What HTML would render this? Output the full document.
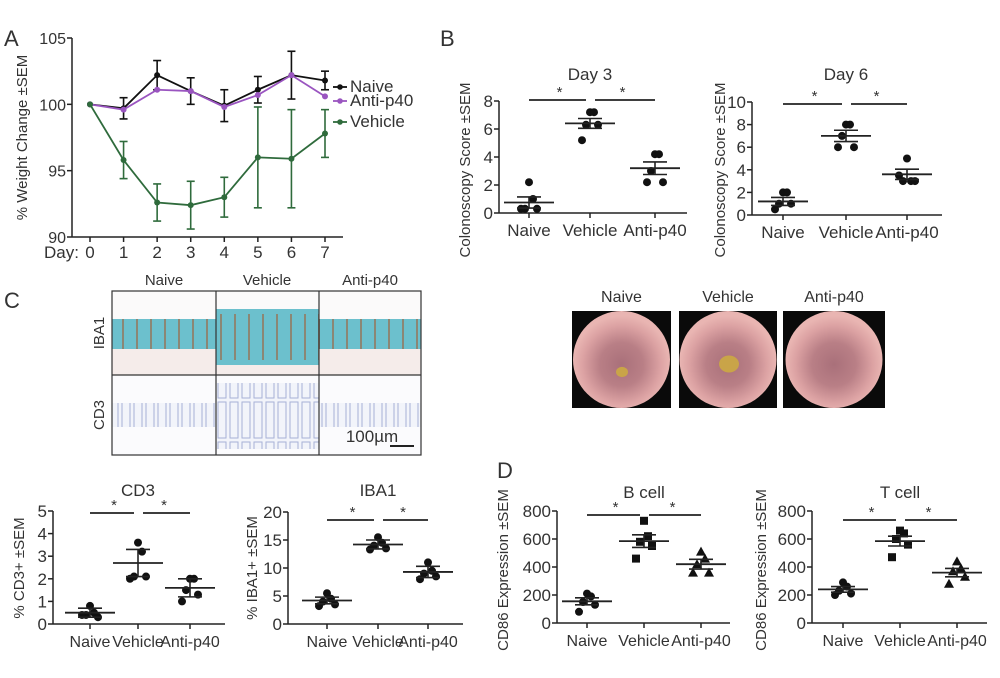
<!DOCTYPE html>
<html><head><meta charset="utf-8"><style>
html,body{margin:0;padding:0;background:#fff;}
svg{display:block;font-family:"Liberation Sans",Arial,sans-serif;}
</style></head><body>
<svg id="fig" width="1000" height="678" viewBox="0 0 1000 678">
<defs>
<radialGradient id="endo" cx="50%" cy="55%" r="50%">
<stop offset="0%" stop-color="#a9707a"/><stop offset="45%" stop-color="#b97f86"/><stop offset="80%" stop-color="#dca2a3"/><stop offset="100%" stop-color="#e9b5b2"/>
</radialGradient>
<pattern id="iba" width="14" height="60" patternUnits="userSpaceOnUse">
<rect width="14" height="60" fill="#6cc0cd"/><rect x="10" y="14" width="2" height="46" fill="#a0603a" opacity="0.6"/>
</pattern>
<pattern id="cd3" width="12" height="40" patternUnits="userSpaceOnUse">
<rect width="12" height="40" fill="#f2f4fa"/><rect x="2" y="2" width="8" height="36" fill="none" stroke="#a7b1d6" stroke-width="1"/>
</pattern>
</defs>
<g id="root"></g>
</svg>
<script>
// ---------- Panel A data ----------
const daysA = [0,1,2,3,4,5,6,7];
const naiveA = [100,99.7,102.2,101,99.9,101.1,102.2,101.8];
const naiveErrA = [0,0.8,1.1,1,1.2,1,1.8,0.7];
const antiA = [100,99.6,101.1,101,99.8,100.7,102.2,100.6];
const antiErrA = [0,0,0,0,0,0,0,0];
const vehA = [100,95.8,92.6,92.4,93,96,95.9,97.8];
const vehErrA = [0,1.4,1.4,1.8,1.5,3.8,3.7,1.8];
const yTicksA = [90,95,100,105];
// ---------- Scatter panels data ----------
const groups = ["Naive","Vehicle","Anti-p40"];
const day3Pts = [[2.2,1,0.3,0.3,0.3],[7.2,7.2,6.3,6.3,5.2],[4.2,4.2,3,2.2,2.2]];
const day3Mean = [0.75,6.4,3.2];
const day3Sem = [0.4,0.35,0.45];
const day3Ticks = [0,2,4,6,8];
const day6Pts = [[2,2,1,1,0.5],[8,8,7,6,6],[5,3,3,3,3.5]];
const day6Mean = [1.2,7,3.6];
const day6Sem = [0.35,0.5,0.45];
const day6Ticks = [0,2,4,6,8,10];
const cd3Pts = [[0.8,0.5,0.4,0.3,0.4],[3.6,3.2,2.1,2.1,2.0],[2.0,2.0,1.5,1.3,1.0]];
const cd3Mean = [0.5,2.7,1.6];
const cd3Sem = [0.2,0.6,0.4];
const cd3Ticks = [0,1,2,3,4,5];
const ibaPts = [[5.5,4.5,4,3.5,3.2],[15.5,14.5,14,13.5,13.3],[11,9.5,9,8.5,8]];
const ibaMean = [4.2,14.2,9.3];
const ibaSem = [0.6,0.8,1];
const ibaTicks = [0,5,10,15,20];
const bPts = [[210,190,150,130,80],[730,620,580,550,460],[510,460,420,360,360]];
const bMean = [155,585,420];
const bSem = [25,45,35];
const tPts = [[290,260,230,210,200],[660,640,600,560,470],[440,390,370,330,280]];
const tMean = [240,585,360];
const tSem = [20,35,30];
const cd86Ticks = [0,200,400,600,800];

const NS="http://www.w3.org/2000/svg";
const root=document.getElementById('root');
function el(tag,attrs,parent){const e=document.createElementNS(NS,tag);for(const k in attrs)e.setAttribute(k,attrs[k]);(parent||root).appendChild(e);return e;}
function txt(s,x,y,size,anchor,parent,extra){const t=el('text',Object.assign({x:x,y:y,'font-size':size,'text-anchor':anchor||'middle',fill:'#333'},extra||{}),parent);t.textContent=s;return t;}

[["A",4,46],["B",440,46],["C",4,308],["D",497,478]].forEach(l=>{
  const t=txt(l[0],l[1],l[2],22,'start');
  
  
});

// ---------- Panel A ----------
(function(){
  const g=el('g',{});
  
  
  const x0=72,x1=343,yTop=38,yBot=237;
  const xs=d=>90+d*(325-90)/7;
  const ys=v=>yBot-(v-90)/(105-90)*(yBot-yTop);
  el('line',{x1:x0,y1:yTop,x2:x0,y2:yBot,stroke:'#222','stroke-width':1.5},g);
  el('line',{x1:x0,y1:yBot,x2:x1,y2:yBot,stroke:'#222','stroke-width':1.5},g);
  yTicksA.forEach(v=>{el('line',{x1:x0-5,y1:ys(v),x2:x0,y2:ys(v),stroke:'#222','stroke-width':1.5},g);
    const t=txt(String(v),x0-6,ys(v)+6,16,'end',g);});
  daysA.forEach(d=>{el('line',{x1:xs(d),y1:yBot,x2:xs(d),y2:yBot+5,stroke:'#222','stroke-width':1.5},g);
    const t=txt(String(d),xs(d),yBot+21,17,'middle',g);});
  const dl=txt("Day:",44,yBot+21,17,'start',g);
  const yt=txt("% Weight Change ±SEM",0,0,15,'middle',g,{transform:`translate(27,${(yTop+yBot)/2}) rotate(-90)`});
  
  const series=[["naive",naiveA,naiveErrA,'#111'],["anti-p40",antiA,antiErrA,'#9a55c0'],["vehicle",vehA,vehErrA,'#2f6b3c']];
  series.forEach(s=>{
    const sg=el('g',{},g);
    
    
    s[1].forEach((v,i)=>{if(s[2][i]>0){const x=xs(daysA[i]);
      el('line',{x1:x,y1:ys(v-s[2][i]),x2:x,y2:ys(v+s[2][i]),stroke:s[3],'stroke-width':1.6},sg);
      [v-s[2][i],v+s[2][i]].forEach(e=>el('line',{x1:x-4,y1:ys(e),x2:x+4,y2:ys(e),stroke:s[3],'stroke-width':1.6},sg));}});
    el('polyline',{points:s[1].map((v,i)=>xs(daysA[i])+','+ys(v)).join(' '),fill:'none',stroke:s[3],'stroke-width':1.8},sg);
    s[1].forEach((v,i)=>{const c=el('circle',{cx:xs(daysA[i]),cy:ys(v),r:3,fill:s[3]},sg);
      });
  });
  const leg=[["Naive",'#111',92],["Anti-p40",'#9a55c0',106],["Vehicle",'#2f6b3c',127]];
  leg.forEach(l=>{const lg=el('g',{},g);
    
    
    el('line',{x1:333,y1:l[2]-5,x2:347,y2:l[2]-5,stroke:l[1],'stroke-width':1.8},lg);
    el('circle',{cx:340,cy:l[2]-5,r:2.8,fill:l[1]},lg);
    txt(l[0],350,l[2],17,'start',lg);});
})();

function scatter(cfg){
  const g=el('g',{});
  
  
  const ys=v=>cfg.yBot-(v/cfg.max)*(cfg.yBot-cfg.yTop);
  el('line',{x1:cfg.x0,y1:cfg.yTop,x2:cfg.x0,y2:cfg.yBot,stroke:'#222','stroke-width':1.5},g);
  el('line',{x1:cfg.x0,y1:cfg.yBot,x2:cfg.x1,y2:cfg.yBot,stroke:'#222','stroke-width':1.5},g);
  cfg.ticks.forEach(v=>{el('line',{x1:cfg.x0-5,y1:ys(v),x2:cfg.x0,y2:ys(v),stroke:'#222','stroke-width':1.5},g);
    const t=txt(String(v),cfg.x0-6,ys(v)+6,17,'end',g);});
  groups.forEach((gr,i)=>{const x=cfg.cx[i];
    el('line',{x1:x,y1:cfg.yBot,x2:x,y2:cfg.yBot+5,stroke:'#222','stroke-width':1.5},g);
    const t=txt(gr,x,cfg.yBot+23,cfg.lab||17,'middle',g);
    const pts=cfg.pts[i];
    pts.forEach((v,j)=>{const dx=(j%2?1:-1)*Math.ceil(j/2)*4*(j>0?1:0);
      const px=x+dx, py=ys(v); let m;
      if(cfg.shape==='square'&&i===1) m=el('rect',{x:px-4,y:py-4,width:8,height:8,fill:'#111'},g);
      else if(cfg.shape==='square'&&i===2) m=el('polygon',{points:`${px},${py-5} ${px+5},${py+4} ${px-5},${py+4}`,fill:'#111'},g);
      else m=el('circle',{cx:px,cy:py,r:4,fill:'#111'},g);
      
      });
    const mean=cfg.mean[i],sem=cfg.sem[i];
    const ml=el('line',{x1:x-25,y1:ys(mean),x2:x+25,y2:ys(mean),stroke:'#222','stroke-width':1.8},g);
    
    el('line',{x1:x,y1:ys(mean-sem),x2:x,y2:ys(mean+sem),stroke:'#222','stroke-width':1.6},g);
    [mean-sem,mean+sem].forEach(e=>el('line',{x1:x-12,y1:ys(e),x2:x+12,y2:ys(e),stroke:'#222','stroke-width':1.6},g));
  });
  [[0,1],[1,2]].forEach((p,k)=>{
    const b=el('line',{x1:cfg.cx[p[0]]+(k?5:0),y1:cfg.sigY,x2:cfg.cx[p[1]]-(k?0:4),y2:cfg.sigY,stroke:'#222','stroke-width':1.8},g);
    
    txt('*',(cfg.cx[p[0]]+cfg.cx[p[1]])/2,cfg.sigY-3,15,'middle',g);
  });
  const tt=txt(cfg.title,cfg.cx[1],cfg.titleY,17,'middle',g);
  const yt=txt(cfg.ylab,0,0,15,'middle',g,{transform:`translate(${cfg.ylabX},${cfg.ylabY}) rotate(-90)`});
  
}
scatter({name:'day3-score-chart',x0:499,x1:687,yTop:101,yBot:213,max:8,ticks:day3Ticks,cx:[529,590,655],pts:day3Pts,mean:day3Mean,sem:day3Sem,sigY:100,title:'Day 3',titleY:80,ylab:'Colonoscopy Score ±SEM',ylabX:470,ylabY:170});
scatter({name:'day6-score-chart',x0:752,x1:942,yTop:102,yBot:215,max:10,ticks:day6Ticks,cx:[783,846,907],pts:day6Pts,mean:day6Mean,sem:day6Sem,sigY:104,title:'Day 6',titleY:80,ylab:'Colonoscopy Score ±SEM',ylabX:725,ylabY:170});
scatter({name:'cd3-chart',x0:53,x1:225,yTop:511,yBot:624,max:5,ticks:cd3Ticks,cx:[90,138,190],pts:cd3Pts,mean:cd3Mean,sem:cd3Sem,sigY:513,title:'CD3',titleY:496,ylab:'% CD3+ ±SEM',ylabX:24,ylabY:568,lab:16});
scatter({name:'iba1-chart',x0:288,x1:463,yTop:512,yBot:624,max:20,ticks:ibaTicks,cx:[327,378,428],pts:ibaPts,mean:ibaMean,sem:ibaSem,sigY:520,title:'IBA1',titleY:496,ylab:'% IBA1+ ±SEM',ylabX:257,ylabY:568,lab:16});
scatter({name:'b-cell-cd86-chart',x0:557,x1:730,yTop:511,yBot:623,max:800,ticks:cd86Ticks,cx:[587,644,701],pts:bPts,mean:bMean,sem:bSem,sigY:515,title:'B cell',titleY:498,ylab:'CD86 Expression ±SEM',ylabX:508,ylabY:570,shape:'square',lab:16});
scatter({name:'t-cell-cd86-chart',x0:812,x1:987,yTop:511,yBot:623,max:800,ticks:cd86Ticks,cx:[843,900,957],pts:tPts,mean:tMean,sem:tSem,sigY:520,title:'T cell',titleY:498,ylab:'CD86 Expression ±SEM',ylabX:766,ylabY:570,shape:'square',lab:16});

(function(){
  const g=el('g',{});
  
  
  const cols=[112,216,319,421], rows=[291,375,455];
  for(let c=0;c<3;c++){
    const x=cols[c],w=cols[c+1]-cols[c];
    el('rect',{x:x,y:rows[0],width:w,height:rows[1]-rows[0],fill:'#fbfafa'},g);
    const top=c===1?rows[0]+18:rows[0]+28, bot=c===1?rows[1]-10:rows[1]-26;
    el('rect',{x:x,y:top,width:w,height:bot-top,fill:'url(#iba)'},g);
    el('rect',{x:x,y:bot,width:w,height:rows[1]-bot,fill:'#f5ecea'},g);
    el('rect',{x:x,y:rows[1],width:w,height:rows[2]-rows[1],fill:'#fbfbfd'},g);
    const t2=c===1?rows[1]+8:rows[1]+28, b2=c===1?rows[2]-6:rows[2]-28;
    el('rect',{x:x,y:t2,width:w,height:b2-t2,fill:'url(#cd3)'},g);
  }
  el('rect',{x:112,y:291,width:309,height:164,fill:'none',stroke:'#333','stroke-width':1.2},g);
  [216,319].forEach(x=>el('line',{x1:x,y1:291,x2:x,y2:455,stroke:'#333','stroke-width':1.2},g));
  el('line',{x1:112,y1:375,x2:421,y2:375,stroke:'#333','stroke-width':1.2},g);
  [["Naive",164],["Vehicle",267],["Anti-p40",370]].forEach(l=>{const t=txt(l[0],l[1],285,15,'middle',g);});
  [["IBA1",333],["CD3",415]].forEach(l=>{const t=txt(l[0],0,0,15,'middle',g,{transform:`translate(104,${l[1]}) rotate(-90)`});});
  const sb=txt("100µm",372,442,17,'middle',g);
  el('line',{x1:390,y1:446,x2:414,y2:446,stroke:'#222','stroke-width':2},g);
})();

(function(){
  const g=el('g',{});
  
  
  const imgs=[["Naive",572,671,[622,372,6]],["Vehicle",679,777,[729,364,10]],["Anti-p40",783,885,[0,0,0]]];
  imgs.forEach(m=>{const x=m[1],w=m[2]-m[1];
    const ig=el('g',{},g);
    
    
    el('rect',{x:x,y:311,width:w,height:97,fill:'#0a0a0a'},ig);
    el('circle',{cx:x+w/2,cy:359.5,r:Math.min(w,97)/2,fill:'url(#endo)'},ig);
    if(m[3][2]>0) el('ellipse',{cx:m[3][0],cy:m[3][1],rx:m[3][2],ry:m[3][2]*0.85,fill:'#c9a448'},ig);
    txt(m[0],x+w/2,302,16,'middle',ig);
  });
})();
</script>
</body></html>
